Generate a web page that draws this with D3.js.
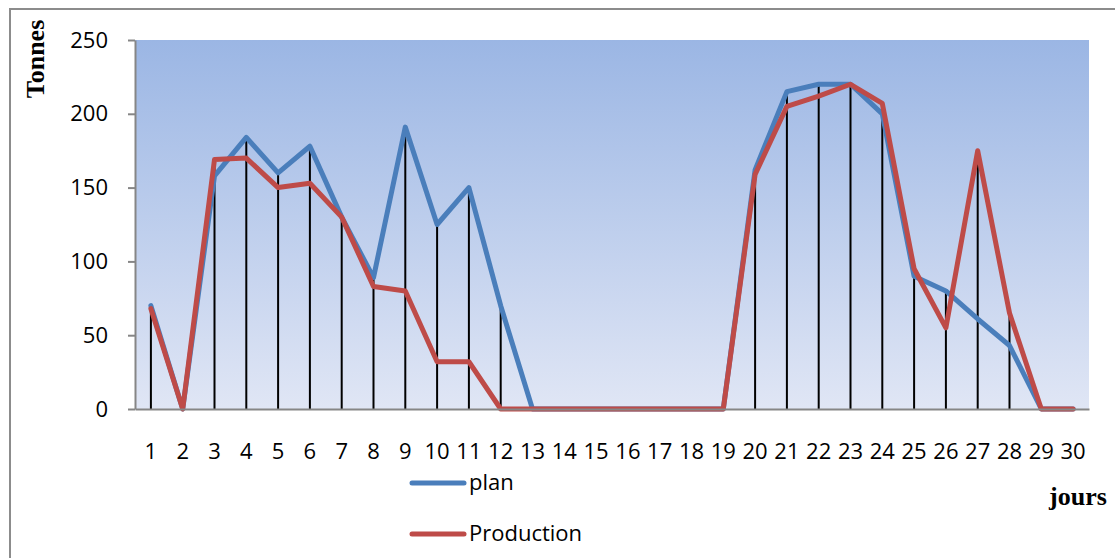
<!DOCTYPE html>
<html>
<head>
<meta charset="utf-8">
<script src="https://cdn.jsdelivr.net/npm/d3@7"></script>
<style>
  html, body { margin: 0; padding: 0; background: #fff; }
  svg { display: block; }
</style>
</head>
<body>
<svg id="chart" width="1115" height="558"></svg>
<script>
// Daily tonnage: plan vs actual production over 30 days
const days = d3.range(1, 31).map(String);
const planValues = [70, 0, 158, 184, 160, 178, 130, 89, 191, 125, 150, 70, 0, 0, 0, 0, 0, 0, 0, 162, 215, 220, 220, 200, 90, 80, 61, 43, 0, 0];
const productionValues = [68, 0, 169, 170, 150, 153, 130, 83, 80, 32, 32, 0, 0, 0, 0, 0, 0, 0, 0, 159, 205, 212, 220, 207, 95, 55, 175, 65, 0, 0];
const yTicks = [0, 50, 100, 150, 200, 250];
const seriesNames = ["plan", "Production"];
const seriesColors = ["#4A7EBB", "#BE4B48"];

const svg = d3.select("#chart");
const plot = { left: 135, right: 1089, top: 40, bottom: 409 };
const labelFont = "'Open Sans', 'Noto Sans', sans-serif";
const titleFont = "'Liberation Serif', 'DejaVu Serif', serif";

const x = d3.scaleBand().domain(days).range([plot.left, plot.right]);
const y = d3.scaleLinear().domain([0, 250]).range([plot.bottom, plot.top]);

// Outer chart frame
svg.append("rect")
  .attr("x", 10).attr("y", 9)
  .attr("width", 1125).attr("height", 600)
  .attr("fill", "none").attr("stroke", "#8c8c8c").attr("stroke-width", 2);

// Plot area gradient
const defs = svg.append("defs");
const grad = defs.append("linearGradient")
  .attr("id", "plotBg").attr("x1", 0).attr("y1", 0).attr("x2", 0).attr("y2", 1);
grad.append("stop").attr("offset", "0%").attr("stop-color", "#9BB6E4");
grad.append("stop").attr("offset", "100%").attr("stop-color", "#E0E6F5");

svg.append("rect")
  .attr("x", plot.left).attr("y", plot.top)
  .attr("width", plot.right - plot.left).attr("height", plot.bottom - plot.top)
  .attr("fill", "url(#plotBg)");

// Drop lines from the highest point of each day
const dropData = days.map((d, i) => ({ day: d, v: Math.max(planValues[i], productionValues[i]) }))
  .filter(d => d.v > 0);
svg.append("g").selectAll("line").data(dropData).join("line")
  .attr("x1", d => x(d.day) + x.bandwidth() / 2)
  .attr("x2", d => x(d.day) + x.bandwidth() / 2)
  .attr("y1", plot.bottom)
  .attr("y2", d => y(d.v))
  .attr("stroke", "#000").attr("stroke-width", 2);

// Series lines
const line = d3.line()
  .x((d, i) => x(days[i]) + x.bandwidth() / 2)
  .y(d => y(d));

[planValues, productionValues].forEach((vals, k) => {
  svg.append("path")
    .datum(vals)
    .attr("d", line)
    .attr("fill", "none")
    .attr("stroke", seriesColors[k])
    .attr("stroke-width", 5)
    .attr("stroke-linejoin", "round")
    .attr("stroke-linecap", "round");
});

// Y axis
const yAxis = svg.append("g")
  .attr("transform", `translate(${plot.left},0)`)
  .call(d3.axisLeft(y).tickValues(yTicks).tickSize(7).tickPadding(20).tickSizeOuter(0));
yAxis.select(".domain").attr("stroke", "#868686").attr("stroke-width", 2);
yAxis.selectAll(".tick line").attr("stroke", "#868686").attr("stroke-width", 2);
yAxis.selectAll(".tick text")
  .attr("font-family", labelFont)
  .attr("font-size", 22).attr("fill", "#000");

// X axis
const xAxis = svg.append("g")
  .attr("transform", `translate(0,${plot.bottom})`)
  .call(d3.axisBottom(x).tickSize(0).tickPadding(34).tickSizeOuter(0));
xAxis.select(".domain").attr("stroke", "#868686").attr("stroke-width", 2);
xAxis.selectAll(".tick text")
  .attr("font-family", labelFont)
  .attr("font-size", 22).attr("fill", "#000");

// Axis titles
svg.append("text")
  .attr("transform", "translate(44,59) rotate(-90)")
  .attr("text-anchor", "middle")
  .attr("font-family", titleFont)
  .attr("font-weight", "bold").attr("font-size", 26)
  .text("Tonnes");

svg.append("text")
  .attr("x", 1078).attr("y", 505)
  .attr("text-anchor", "middle")
  .attr("font-family", titleFont)
  .attr("font-weight", "bold").attr("font-size", 26)
  .text("jours");

// Legend
const legend = svg.append("g");
seriesNames.forEach((name, k) => {
  const ly = 483 + k * 51;
  legend.append("line")
    .attr("x1", 412).attr("x2", 464).attr("y1", ly).attr("y2", ly)
    .attr("stroke", seriesColors[k]).attr("stroke-width", 5)
    .attr("stroke-linecap", "round");
  legend.append("text")
    .attr("x", 469).attr("y", ly + 7)
    .attr("font-family", labelFont)
    .attr("font-size", 22).attr("fill", "#000")
    .text(name);
});
</script>
</body>
</html>
